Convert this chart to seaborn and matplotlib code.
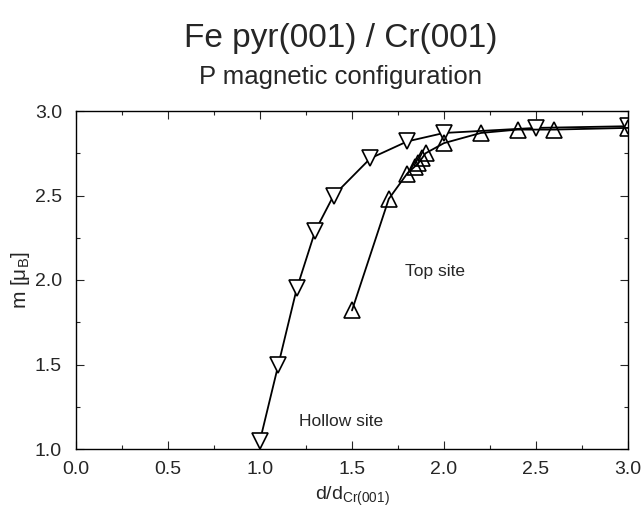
import matplotlib
matplotlib.use("Agg")
import matplotlib.pyplot as plt
from matplotlib.ticker import MultipleLocator
import seaborn as sns
import pandas as pd

# Hollow site (down triangles)
hollow_x = [1.0, 1.1, 1.2, 1.3, 1.4, 1.6, 1.8, 2.0, 2.5, 3.0]
hollow_m = [1.05, 1.50, 1.95, 2.29, 2.50, 2.72, 2.82, 2.87, 2.90, 2.91]

# Top site (up triangles)
top_x = [1.5, 1.7, 1.8, 1.84, 1.86, 1.88, 1.9, 2.0, 2.2, 2.4, 2.6, 3.0]
top_m = [1.82, 2.48, 2.63, 2.67, 2.69, 2.72, 2.75, 2.81, 2.87, 2.89, 2.89, 2.90]

sns.set_style("ticks")
plt.rcParams['font.family'] = ['Liberation Sans', 'DejaVu Sans']

fig = plt.figure(figsize=(6.43, 5.14), dpi=100)
ax = fig.add_axes([76/643, 1 - 449/514, (628-76)/643, (449-111)/514])

df_h = pd.DataFrame({"x": hollow_x, "m": hollow_m})
df_t = pd.DataFrame({"x": top_x, "m": top_m})

sns.lineplot(data=df_h, x="x", y="m", ax=ax, color="black", lw=1.3,
             marker="v", markersize=11, markerfacecolor="white",
             markeredgecolor="black", markeredgewidth=1.2, sort=False)
sns.lineplot(data=df_t, x="x", y="m", ax=ax, color="black", lw=1.3,
             marker="^", markersize=11, markerfacecolor="none",
             markeredgecolor="black", markeredgewidth=1.2, sort=False)

ax.set_xlim(0, 3.0)
ax.set_ylim(1.0, 3.0)
ax.xaxis.set_major_locator(MultipleLocator(0.5))
ax.xaxis.set_minor_locator(MultipleLocator(0.25))
ax.yaxis.set_major_locator(MultipleLocator(0.5))
ax.yaxis.set_minor_locator(MultipleLocator(0.25))
ax.set_xticklabels([f"{v:.1f}" for v in ax.get_xticks()])
ax.set_yticklabels([f"{v:.1f}" for v in ax.get_yticks()])
ax.tick_params(which="both", direction="in", top=True, right=True, width=0.8)
ax.tick_params(which="major", length=6, labelsize=14)
ax.tick_params(axis="x", which="major", pad=9)
ax.tick_params(axis="y", which="major", pad=10)
ax.tick_params(which="minor", length=3)
for s in ax.spines.values():
    s.set_linewidth(1.0)
    s.set_color("black")

ax.set_xlabel(r"d/d$_{\mathregular{Cr(001)}}$", fontsize=14, labelpad=4)
ax.set_ylabel(r"m [$\mathregular{\mu}_{\mathregular{B}}$]", fontsize=15, labelpad=2)

ax.text(1.79, 2.05, "Top site", fontsize=12.5, va="center")
ax.text(1.21, 1.16, "Hollow site", fontsize=12.5, va="center")

fig.text(0.53, 1 - 39/514, "Fe pyr(001) / Cr(001)", fontsize=24, ha="center", va="center")
fig.text(0.53, 1 - 77/514, "P magnetic configuration", fontsize=18.5, ha="center", va="center")

fig.savefig("out.png", dpi=100)
